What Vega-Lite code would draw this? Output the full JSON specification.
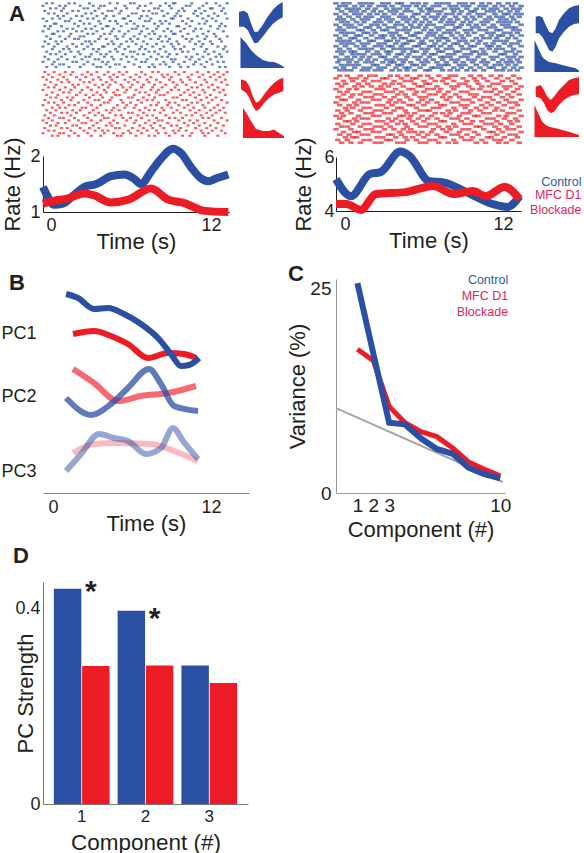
{
"$schema":"https://vega.github.io/schema/vega-lite/v6.json",
"padding":{"left":0,"top":2,"right":0,"bottom":0},
"background":"white",
"config":{
 "font":"Liberation Sans",
 "view":{"stroke":null},
 "axis":{"grid":false,"labelFont":"Liberation Sans","titleFont":"Liberation Sans","titleFontWeight":"normal","labelColor":"#231f20","titleColor":"#231f20","domainColor":"#231f20","ticks":false,"labelFontSize":18,"titleFontSize":22},
 "title":{"fontSize":22,"fontWeight":"bold","anchor":"start","frame":"group","offset":0,"baseline":"alphabetic","color":"#231f20","font":"Liberation Sans"}
},
"datasets":{
"one":[{"n":1}],
"rasL":[
{"c":"b","r":1,"s":[2,5,14,17,25,36,40,47,49,58,66,70,71,80,88,93,99]},
{"c":"b","r":2,"s":[0,9,12,20,27,31,33,44,52,55,63,68,77,79,86,95]},
{"c":"b","r":3,"s":[4,7,11,22,24,30,39,45,51,60,62,69,75,84,90,91,97]},
{"c":"b","r":4,"s":[1,10,16,19,28,35,37,42,54,57,64,73,76,82,87,96]},
{"c":"b","r":5,"s":[3,6,13,23,26,32,41,48,50,59,61,67,72,81,85,92,98]},
{"c":"b","r":6,"s":[8,11,18,21,29,34,38,46,53,56,65,71,74,83,89,94]},
{"c":"b","r":7,"s":[0,5,9,15,24,27,33,43,44,52,58,69,70,78,86,91,99]},
{"c":"b","r":8,"s":[2,12,14,20,30,36,39,47,55,57,63,66,75,80,88,93]},
{"c":"b","r":9,"s":[6,7,17,22,25,31,40,45,49,60,64,68,77,84,87,96]},
{"c":"b","r":10,"s":[1,4,10,19,28,34,35,42,51,54,62,72,73,79,90,95,98]},
{"c":"b","r":11,"s":[3,13,16,23,26,32,38,48,50,56,61,67,76,82,85,94]},
{"c":"b","r":12,"s":[0,8,11,18,21,29,37,41,46,53,59,65,69,74,81,89,97]},
{"c":"b","r":13,"s":[5,6,15,24,27,33,36,44,52,57,60,70,71,78,86,92]},
{"c":"b","r":14,"s":[2,9,14,20,22,31,39,43,49,55,63,66,75,83,88,93,99]},
{"c":"b","r":15,"s":[4,12,17,19,30,34,40,47,51,58,62,68,77,80,87,95]},
{"c":"b","r":16,"s":[1,7,10,23,25,28,37,45,48,54,64,67,72,79,84,90,96]},
{"c":"b","r":17,"s":[3,8,16,21,26,35,38,42,50,56,61,69,73,82,86,91]},
{"c":"b","r":18,"s":[0,6,13,18,24,32,33,41,46,53,59,65,70,76,85,94,98]},
{"c":"b","r":19,"s":[5,11,14,22,27,30,39,44,52,55,63,71,74,81,88,97]},
{"c":"b","r":20,"s":[2,9,15,19,29,36,40,47,49,57,60,66,75,78,87,92,99]},
{"c":"b","r":21,"s":[4,7,12,20,26,31,34,43,51,54,62,68,72,83,89,95]},
{"c":"b","r":22,"s":[1,10,17,23,25,33,37,45,48,58,64,67,77,80,86,93,96]},
{"c":"b","r":23,"s":[3,8,13,21,28,30,38,42,50,56,61,69,71,79,84,90]},
{"c":"b","r":24,"s":[0,6,16,18,24,32,35,46,53,55,65,70,76,82,88,94,97]},
{"c":"b","r":25,"s":[5,9,11,22,27,34,39,41,49,59,63,66,73,81,85,91]},
{"c":"b","r":26,"s":[2,7,14,20,29,31,36,44,52,57,60,68,74,78,87,95,98]},
{"c":"r","r":28,"s":[1,6,12,16,24,29,35,41,45,53,59,62,71,76,83,89,94,99]},
{"c":"r","r":29,"s":[3,9,15,21,26,33,38,43,50,55,64,67,73,80,86,92,97]},
{"c":"r","r":30,"s":[0,5,11,18,23,30,36,40,47,52,58,65,69,78,84,90,95]},
{"c":"r","r":31,"s":[2,8,13,20,27,31,37,44,49,56,61,68,74,79,87,93,98]},
{"c":"r","r":32,"s":[4,10,14,22,25,34,39,46,51,57,63,70,75,82,88,96]},
{"c":"r","r":33,"s":[1,7,16,19,28,32,36,42,48,54,60,66,72,77,85,91,99]},
{"c":"r","r":34,"s":[3,6,12,17,24,30,35,43,47,53,59,64,71,80,83,89,94]},
{"c":"r","r":35,"s":[0,9,15,21,26,33,40,45,50,58,62,69,73,78,86,92,97]},
{"c":"r","r":36,"s":[5,11,14,20,29,34,38,44,52,55,61,67,76,81,87,95]},
{"c":"r","r":37,"s":[2,8,18,23,27,31,39,41,49,57,63,65,74,79,84,90,98]},
{"c":"r","r":38,"s":[4,7,13,16,25,32,37,46,48,54,60,70,72,82,88,93]},
{"c":"r","r":39,"s":[1,10,15,22,28,30,36,42,51,56,59,66,75,77,85,91,96]},
{"c":"r","r":40,"s":[3,6,11,19,24,33,35,43,47,53,62,68,71,80,83,89,99]},
{"c":"r","r":41,"s":[0,8,14,17,26,31,40,45,50,58,61,67,73,78,86,94]},
{"c":"r","r":42,"s":[5,9,12,21,23,29,38,44,49,55,64,69,76,81,87,92,97]},
{"c":"r","r":43,"s":[2,7,16,20,27,34,37,41,52,57,60,65,72,79,84,90,95]},
{"c":"r","r":44,"s":[4,10,13,18,25,30,36,46,48,54,63,70,74,82,88,93,98]},
{"c":"r","r":45,"s":[1,6,15,22,28,32,39,42,51,56,59,66,77,80,85,91]},
{"c":"r","r":46,"s":[3,9,11,17,24,33,35,43,47,53,61,68,71,75,86,89,96]},
{"c":"r","r":47,"s":[0,5,14,19,26,31,38,45,50,57,62,64,73,79,83,92,99]},
{"c":"r","r":48,"s":[2,8,12,21,23,29,36,40,49,55,60,67,76,81,87,94]},
{"c":"r","r":49,"s":[4,7,16,18,27,34,37,44,52,58,63,69,72,78,84,90,97]},
{"c":"r","r":50,"s":[1,10,13,20,25,30,39,41,48,54,59,65,74,82,88,93]},
{"c":"r","r":51,"s":[3,6,15,22,28,32,35,46,51,56,61,70,73,77,85,91,96]},
{"c":"r","r":52,"s":[0,9,11,17,24,33,38,43,47,53,62,66,71,80,86,89,98]},
{"c":"r","r":53,"s":[5,8,14,19,26,31,40,42,50,57,60,68,75,79,87,94]}
],
"rasR":[
{"c":"b","r":1,"s":[0,4,7,13,16,19,25,28,33,35,41,44,48,54,57,60,66,69,73,78,82,87,92,96]},
{"c":"b","r":2,"s":[2,5,10,14,18,23,26,30,36,39,43,47,52,55,61,64,68,71,77,80,85,89,94,99]},
{"c":"b","r":3,"s":[1,6,9,12,17,21,27,31,34,38,45,49,51,58,62,65,70,75,79,83,86,91,95,98]},
{"c":"b","r":4,"s":[3,8,11,15,20,24,29,32,37,40,46,50,53,56,63,67,72,74,81,84,88,93,97]},
{"c":"b","r":5,"s":[0,5,10,13,18,22,26,31,35,42,44,49,55,59,62,66,71,76,79,85,90,92,96,99]},
{"c":"b","r":6,"s":[2,7,12,16,19,25,28,34,37,41,47,51,54,58,64,69,73,77,82,86,89,94,98]},
{"c":"b","r":7,"s":[1,4,9,14,17,23,27,30,36,39,43,48,53,57,61,65,70,74,80,83,88,91,95]},
{"c":"b","r":8,"s":[3,6,11,15,21,24,29,33,38,42,46,50,56,60,63,68,72,78,81,87,90,93,97]},
{"c":"b","r":9,"s":[0,5,8,13,19,22,26,32,35,40,45,49,52,59,62,67,71,75,79,84,89,92,99]},
{"c":"b","r":10,"s":[2,7,10,16,18,23,28,31,37,41,44,48,54,57,64,66,73,76,82,85,91,94,96]},
{"c":"b","r":11,"s":[1,4,12,14,20,25,27,33,36,39,47,51,55,60,63,69,72,77,80,86,88,95,98]},
{"c":"b","r":12,"s":[3,6,9,15,17,21,29,32,38,43,45,50,53,58,61,65,70,74,81,84,90,93,97]},
{"c":"b","r":13,"s":[0,5,11,13,19,24,26,30,34,40,42,49,52,56,62,67,71,78,83,87,89,94,99]},
{"c":"b","r":14,"s":[2,8,10,16,22,25,31,35,37,44,48,54,57,59,64,68,75,79,82,86,92,96]},
{"c":"b","r":15,"s":[1,4,7,12,18,20,27,29,33,39,41,46,51,55,60,66,69,73,77,85,88,91,98]},
{"c":"b","r":16,"s":[3,6,9,14,17,23,26,32,36,38,45,47,53,58,63,65,70,76,80,84,90,94,97]},
{"c":"b","r":17,"s":[0,5,11,15,21,24,28,30,35,42,44,50,52,56,61,67,72,74,81,83,87,93,99]},
{"c":"b","r":18,"s":[2,7,13,16,19,25,31,34,37,40,46,49,54,59,62,68,71,78,82,86,89,95]},
{"c":"b","r":19,"s":[1,4,8,10,17,22,27,29,36,41,43,48,55,57,64,66,73,75,79,85,91,94,98]},
{"c":"b","r":20,"s":[3,9,12,15,20,23,28,33,35,39,47,51,53,60,63,69,72,77,80,88,90,96]},
{"c":"b","r":21,"s":[0,6,10,14,18,24,26,32,38,42,45,50,56,58,61,67,70,76,83,86,92,95,99]},
{"c":"b","r":22,"s":[2,5,8,13,17,21,27,30,34,37,44,48,52,57,62,65,71,74,79,84,89,93,97]},
{"c":"b","r":23,"s":[1,7,11,16,19,25,29,31,36,40,46,49,54,59,64,68,73,78,81,87,91,94,98]},
{"c":"b","r":24,"s":[3,6,9,12,20,22,28,33,35,41,43,47,55,58,60,66,69,75,80,85,88,92,96]},
{"c":"b","r":25,"s":[0,4,10,15,18,23,26,32,37,39,45,51,53,56,63,67,72,77,82,84,90,95,99]},
{"c":"b","r":26,"s":[2,5,8,14,17,21,24,30,34,38,42,48,50,57,61,65,70,74,79,86,89,93,97]},
{"c":"r","r":28,"s":[2,6,13,18,21,29,33,38,45,49,55,61,64,72,77,83,88,95]},
{"c":"r","r":29,"s":[0,8,11,16,25,27,35,41,43,51,58,60,68,74,79,86,92,98]},
{"c":"r","r":30,"s":[4,9,15,20,23,31,37,40,47,53,57,63,70,75,81,89,94]},
{"c":"r","r":31,"s":[1,5,12,17,26,30,34,42,48,50,59,66,69,76,84,87,96]},
{"c":"r","r":32,"s":[3,10,14,19,24,28,36,44,46,54,62,65,71,78,82,90,93,99]},
{"c":"r","r":33,"s":[0,7,11,22,25,32,39,41,49,52,56,63,73,77,85,91,97]},
{"c":"r","r":34,"s":[2,6,15,18,27,30,35,43,47,55,60,67,70,80,83,88,95]},
{"c":"r","r":35,"s":[4,9,13,21,24,33,37,42,50,53,58,64,72,75,86,92,98]},
{"c":"r","r":36,"s":[1,8,16,19,26,31,38,45,48,57,61,66,74,79,82,89,94]},
{"c":"r","r":37,"s":[3,5,12,20,23,29,34,40,46,51,59,68,71,77,84,91,99]},
{"c":"r","r":38,"s":[0,10,14,17,28,32,36,44,49,54,62,65,73,81,87,93,96]},
{"c":"r","r":39,"s":[2,7,11,22,25,30,39,41,47,56,58,67,70,78,83,90,97]},
{"c":"r","r":40,"s":[5,9,15,18,27,33,35,43,52,55,63,69,75,80,86,94]},
{"c":"r","r":41,"s":[1,6,13,21,24,31,37,45,48,50,60,64,72,77,85,89,98]},
{"c":"r","r":42,"s":[3,8,16,19,26,29,38,42,53,57,61,68,71,79,82,92,95]},
{"c":"r","r":43,"s":[0,4,12,20,23,34,36,40,46,51,59,66,74,76,87,91,99]},
{"c":"r","r":44,"s":[2,10,14,17,28,32,39,44,49,54,62,65,70,81,84,90,96]},
{"c":"r","r":45,"s":[5,7,11,22,25,30,35,41,47,56,58,67,73,78,86,93,97]},
{"c":"r","r":46,"s":[1,9,15,18,27,33,37,43,50,53,63,69,72,80,83,88,94]},
{"c":"r","r":47,"s":[3,6,13,21,24,29,38,45,48,55,60,64,75,77,85,91,98]},
{"c":"r","r":48,"s":[0,8,16,19,26,31,36,40,52,57,61,68,71,79,87,92,95]},
{"c":"r","r":49,"s":[4,10,12,20,23,34,39,42,46,51,59,66,74,82,84,89,99]},
{"c":"r","r":50,"s":[2,7,14,17,28,30,35,44,49,54,62,65,70,76,86,93,96]},
{"c":"r","r":51,"s":[5,9,11,22,25,32,37,41,47,56,58,67,73,81,83,90,97]},
{"c":"r","r":52,"s":[1,6,15,18,27,29,38,43,50,53,63,69,72,78,85,88,94]},
{"c":"r","r":53,"s":[3,8,13,21,24,33,36,45,48,55,60,64,75,80,87,91,98]}
],
"thumbs":[
{"k":"LB","p":"w","x":0,"lo":41.3,"hi":56.3},{"k":"LB","p":"w","x":5,"lo":41.3,"hi":57.3},{"k":"LB","p":"w","x":8.7,"lo":38,"hi":54.7},{"k":"LB","p":"w","x":12,"lo":31.3,"hi":44.7},{"k":"LB","p":"w","x":15.3,"lo":24.7,"hi":36.3},{"k":"LB","p":"w","x":18.7,"lo":25.3,"hi":36.3},{"k":"LB","p":"w","x":23.7,"lo":31.3,"hi":43},{"k":"LB","p":"w","x":28.7,"lo":38,"hi":51.3},{"k":"LB","p":"w","x":33.7,"lo":44,"hi":58},{"k":"LB","p":"w","x":38.7,"lo":48,"hi":63},{"k":"LB","p":"w","x":43.7,"lo":50.7,"hi":66},
{"k":"LB","p":"h","x":1.5,"lo":0,"hi":31},{"k":"LB","p":"h","x":7,"lo":0,"hi":25},{"k":"LB","p":"h","x":12,"lo":0,"hi":18},{"k":"LB","p":"h","x":17,"lo":0,"hi":13},{"k":"LB","p":"h","x":23.7,"lo":0,"hi":8},{"k":"LB","p":"h","x":30,"lo":0,"hi":6.3},{"k":"LB","p":"h","x":35,"lo":0,"hi":6},{"k":"LB","p":"h","x":40,"lo":0,"hi":4},{"k":"LB","p":"h","x":45,"lo":0,"hi":1},
{"k":"LR","p":"w","x":2,"lo":48.7,"hi":58.7},{"k":"LR","p":"w","x":7,"lo":45.3,"hi":57},{"k":"LR","p":"w","x":10.3,"lo":40.3,"hi":52},{"k":"LR","p":"w","x":13.7,"lo":32,"hi":42},{"k":"LR","p":"w","x":17,"lo":27,"hi":35.3},{"k":"LR","p":"w","x":20.3,"lo":28.7,"hi":37},{"k":"LR","p":"w","x":25.3,"lo":35.3,"hi":43.7},{"k":"LR","p":"w","x":30.3,"lo":40.3,"hi":50.3},{"k":"LR","p":"w","x":35.3,"lo":43.7,"hi":55.3},{"k":"LR","p":"w","x":40.3,"lo":45.3,"hi":58.7},{"k":"LR","p":"w","x":44.3,"lo":47,"hi":60.3},
{"k":"LR","p":"h","x":4,"lo":0,"hi":30.3},{"k":"LR","p":"h","x":8,"lo":0,"hi":24},{"k":"LR","p":"h","x":12,"lo":0,"hi":17},{"k":"LR","p":"h","x":17,"lo":0,"hi":9},{"k":"LR","p":"h","x":24,"lo":0,"hi":7},{"k":"LR","p":"h","x":30,"lo":0,"hi":7},{"k":"LR","p":"h","x":35,"lo":0,"hi":8.5},{"k":"LR","p":"h","x":40,"lo":0,"hi":5},{"k":"LR","p":"h","x":45,"lo":0,"hi":2},
{"k":"RB","p":"w","x":1.7,"lo":38.7,"hi":55.3},{"k":"RB","p":"w","x":5,"lo":38.7,"hi":56},{"k":"RB","p":"w","x":8.3,"lo":35.3,"hi":54.7},{"k":"RB","p":"w","x":11.7,"lo":28.7,"hi":47},{"k":"RB","p":"w","x":15,"lo":22,"hi":40.3},{"k":"RB","p":"w","x":18.3,"lo":20.3,"hi":38.7},{"k":"RB","p":"w","x":21.7,"lo":25.3,"hi":43.7},{"k":"RB","p":"w","x":25,"lo":33.7,"hi":52},{"k":"RB","p":"w","x":30,"lo":40.3,"hi":58.7},{"k":"RB","p":"w","x":35,"lo":45.3,"hi":63.7},{"k":"RB","p":"w","x":40,"lo":48,"hi":66},{"k":"RB","p":"w","x":45,"lo":48.7,"hi":67},
{"k":"RB","p":"h","x":0.5,"lo":0,"hi":32},{"k":"RB","p":"h","x":5,"lo":0,"hi":22},{"k":"RB","p":"h","x":8.3,"lo":0,"hi":15},{"k":"RB","p":"h","x":11.7,"lo":0,"hi":12},{"k":"RB","p":"h","x":15,"lo":0,"hi":10},{"k":"RB","p":"h","x":21.7,"lo":0,"hi":8.7},{"k":"RB","p":"h","x":28.3,"lo":0,"hi":7},{"k":"RB","p":"h","x":35,"lo":0,"hi":5.3},{"k":"RB","p":"h","x":41.7,"lo":0,"hi":3.7},{"k":"RB","p":"h","x":45,"lo":0,"hi":1.5},
{"k":"RR","p":"w","x":1.7,"lo":40.3,"hi":50.3},{"k":"RR","p":"w","x":6.7,"lo":38.7,"hi":52},{"k":"RR","p":"w","x":10,"lo":33.7,"hi":47},{"k":"RR","p":"w","x":13.3,"lo":27,"hi":40.3},{"k":"RR","p":"w","x":16.7,"lo":23.7,"hi":37},{"k":"RR","p":"w","x":20,"lo":25.3,"hi":40.3},{"k":"RR","p":"w","x":25,"lo":32,"hi":47},{"k":"RR","p":"w","x":30,"lo":37,"hi":52},{"k":"RR","p":"w","x":35,"lo":40.3,"hi":57},{"k":"RR","p":"w","x":40,"lo":42,"hi":58.7},{"k":"RR","p":"w","x":45,"lo":42.7,"hi":59.7},
{"k":"RR","p":"h","x":0.5,"lo":0,"hi":32},{"k":"RR","p":"h","x":5,"lo":0,"hi":22},{"k":"RR","p":"h","x":8.3,"lo":0,"hi":15.3},{"k":"RR","p":"h","x":11.7,"lo":0,"hi":12},{"k":"RR","p":"h","x":15,"lo":0,"hi":10.3},{"k":"RR","p":"h","x":21.7,"lo":0,"hi":8.7},{"k":"RR","p":"h","x":28.3,"lo":0,"hi":7},{"k":"RR","p":"h","x":35,"lo":0,"hi":5.3},{"k":"RR","p":"h","x":41.7,"lo":0,"hi":3},{"k":"RR","p":"h","x":45,"lo":0,"hi":2}
],
"rate":[
{"s":"L","c":"b","t":-0.6,"v":1.45},{"s":"L","c":"b","t":-0.3,"v":1.3},{"s":"L","c":"b","t":0.2,"v":1.13},{"s":"L","c":"b","t":0.9,"v":1.15},{"s":"L","c":"b","t":1.7,"v":1.3},{"s":"L","c":"b","t":2.5,"v":1.45},{"s":"L","c":"b","t":3.4,"v":1.5},{"s":"L","c":"b","t":4.5,"v":1.64},{"s":"L","c":"b","t":5.5,"v":1.67},{"s":"L","c":"b","t":6.2,"v":1.6},{"s":"L","c":"b","t":6.75,"v":1.5},{"s":"L","c":"b","t":7.5,"v":1.72},{"s":"L","c":"b","t":8.25,"v":1.95},{"s":"L","c":"b","t":9.15,"v":2.13},{"s":"L","c":"b","t":9.75,"v":2.05},{"s":"L","c":"b","t":10.5,"v":1.8},{"s":"L","c":"b","t":11.25,"v":1.6},{"s":"L","c":"b","t":11.8,"v":1.55},{"s":"L","c":"b","t":12.4,"v":1.6},{"s":"L","c":"b","t":13.3,"v":1.67},
{"s":"L","c":"r","t":-0.6,"v":1.15},{"s":"L","c":"r","t":0.2,"v":1.2},{"s":"L","c":"r","t":1.2,"v":1.24},{"s":"L","c":"r","t":2.5,"v":1.33},{"s":"L","c":"r","t":3.2,"v":1.3},{"s":"L","c":"r","t":4.5,"v":1.17},{"s":"L","c":"r","t":5.8,"v":1.22},{"s":"L","c":"r","t":7.5,"v":1.42},{"s":"L","c":"r","t":8.8,"v":1.22},{"s":"L","c":"r","t":10,"v":1.16},{"s":"L","c":"r","t":11.5,"v":1.02},{"s":"L","c":"r","t":13.3,"v":1.0},
{"s":"R","c":"b","t":-0.68,"v":5.18},{"s":"R","c":"b","t":0.45,"v":4.55},{"s":"R","c":"b","t":1.9,"v":5.37},{"s":"R","c":"b","t":2.7,"v":5.44},{"s":"R","c":"b","t":4.2,"v":6.2},{"s":"R","c":"b","t":4.9,"v":6.04},{"s":"R","c":"b","t":6.4,"v":5.1},{"s":"R","c":"b","t":7.4,"v":5.07},{"s":"R","c":"b","t":9.2,"v":4.7},{"s":"R","c":"b","t":11.2,"v":4.26},{"s":"R","c":"b","t":12.35,"v":4.15},{"s":"R","c":"b","t":13.25,"v":4.55},
{"s":"R","c":"r","t":-0.68,"v":4.26},{"s":"R","c":"r","t":0.1,"v":4.26},{"s":"R","c":"r","t":1.2,"v":4.04},{"s":"R","c":"r","t":2.35,"v":4.63},{"s":"R","c":"r","t":4.6,"v":4.7},{"s":"R","c":"r","t":6.7,"v":4.93},{"s":"R","c":"r","t":8.2,"v":4.63},{"s":"R","c":"r","t":9.7,"v":4.74},{"s":"R","c":"r","t":10.7,"v":4.55},{"s":"R","c":"r","t":12.1,"v":4.89},{"s":"R","c":"r","t":13.25,"v":4.44}
],
"pcs":[
{"pc":1,"c":"b","t":0.99,"v":207},{"pc":1,"c":"b","t":1.9,"v":203},{"pc":1,"c":"b","t":3.11,"v":192},{"pc":1,"c":"b","t":4.18,"v":193},{"pc":1,"c":"b","t":5.39,"v":187},{"pc":1,"c":"b","t":6.68,"v":177},{"pc":1,"c":"b","t":7.97,"v":163},{"pc":1,"c":"b","t":8.96,"v":147},{"pc":1,"c":"b","t":9.72,"v":135},{"pc":1,"c":"b","t":10.33,"v":136},{"pc":1,"c":"b","t":11.09,"v":143},
{"pc":1,"c":"r","t":1.52,"v":167},{"pc":1,"c":"r","t":3.11,"v":170},{"pc":1,"c":"r","t":4.4,"v":165},{"pc":1,"c":"r","t":5.69,"v":157},{"pc":1,"c":"r","t":7.21,"v":143},{"pc":1,"c":"r","t":8.73,"v":148},{"pc":1,"c":"r","t":9.95,"v":147},{"pc":1,"c":"r","t":10.86,"v":143},
{"pc":2,"c":"b","t":0.99,"v":103},{"pc":2,"c":"b","t":2.89,"v":86},{"pc":2,"c":"b","t":4.4,"v":97},{"pc":2,"c":"b","t":5.69,"v":113},{"pc":2,"c":"b","t":7.29,"v":132},{"pc":2,"c":"b","t":8.2,"v":117},{"pc":2,"c":"b","t":9.19,"v":95},{"pc":2,"c":"b","t":11.01,"v":90},
{"pc":2,"c":"r","t":1.52,"v":132},{"pc":2,"c":"r","t":3.11,"v":118},{"pc":2,"c":"r","t":4.94,"v":100},{"pc":2,"c":"r","t":6.68,"v":105},{"pc":2,"c":"r","t":8.73,"v":108},{"pc":2,"c":"r","t":10.86,"v":115},
{"pc":3,"c":"b","t":0.99,"v":30},{"pc":3,"c":"b","t":2.13,"v":47},{"pc":3,"c":"b","t":3.49,"v":67},{"pc":3,"c":"b","t":4.63,"v":63},{"pc":3,"c":"b","t":5.69,"v":60},{"pc":3,"c":"b","t":7.06,"v":47},{"pc":3,"c":"b","t":8.2,"v":53},{"pc":3,"c":"b","t":9.11,"v":73},{"pc":3,"c":"b","t":9.87,"v":60},{"pc":3,"c":"b","t":11.01,"v":42},
{"pc":3,"c":"r","t":1.52,"v":48},{"pc":3,"c":"r","t":3.11,"v":57},{"pc":3,"c":"r","t":4.63,"v":58},{"pc":3,"c":"r","t":7.44,"v":57},{"pc":3,"c":"r","t":9.19,"v":50},{"pc":3,"c":"r","t":11.01,"v":40}
],
"scree":[
{"k":1,"c":"b","v":25.7},{"k":2,"c":"b","v":17.1},{"k":3,"c":"b","v":8.6},{"k":4,"c":"b","v":8.4},{"k":5,"c":"b","v":6.7},{"k":6,"c":"b","v":5.4},{"k":7,"c":"b","v":4.8},{"k":8,"c":"b","v":3.1},{"k":9,"c":"b","v":2.3},{"k":10,"c":"b","v":1.8},
{"k":1,"c":"r","v":17.6},{"k":2,"c":"r","v":16.2},{"k":3,"c":"r","v":10.6},{"k":4,"c":"r","v":8.6},{"k":5,"c":"r","v":7.5},{"k":6,"c":"r","v":6.9},{"k":7,"c":"r","v":5.5},{"k":8,"c":"r","v":3.8},{"k":9,"c":"r","v":2.9},{"k":10,"c":"r","v":2.1}
],
"bars":[
{"k":"1","c":"Control","v":0.441},{"k":"1","c":"MFC","v":0.283},{"k":"2","c":"Control","v":0.396},{"k":"2","c":"MFC","v":0.284},{"k":"3","c":"Control","v":0.284},{"k":"3","c":"MFC","v":0.248}
],
"stars":[{"k":"1","c":"MFC","v":0.439},{"k":"2","c":"MFC","v":0.384}]
},
"spacing":11,
"vconcat":[
{"hconcat":[
 {"vconcat":[
  {"hconcat":[
   {"width":186,"height":135,"title":{"text":"A","dx":-34,"dy":28},
    "data":{"name":"rasL"},"transform":[{"flatten":["s"]}],
    "mark":{"type":"tick","orient":"horizontal","size":3,"thickness":2.2},
    "encoding":{"x":{"field":"s","type":"quantitative","scale":{"domain":[0,100],"nice":false,"zero":false},"axis":null},
     "y":{"field":"r","type":"quantitative","scale":{"domain":[0.5,53.5],"reverse":true,"nice":false,"zero":false},"axis":{"values":[27],"labelExpr":"'2'","labelOpacity":0,"domain":false,"title":"Rate (Hz)","titleOpacity":0,"labelPadding":3,"titlePadding":5}},
     "color":{"field":"c","type":"nominal","scale":{"domain":["b","r"],"range":["#2b4fa3","#ed1c24"]},"legend":null}}},
   {"vconcat":[
     {"width":46,"height":66,"data":{"name":"thumbs"},"transform":[{"filter":"datum.k=='LB'"}],"mark":{"type":"area","color":"#2b4fa3"},
      "encoding":{"x":{"field":"x","type":"quantitative","scale":{"domain":[0,46],"nice":false,"zero":false},"axis":null},"y":{"field":"hi","type":"quantitative","scale":{"domain":[0,66],"nice":false},"axis":null},"y2":{"field":"lo"},"detail":{"field":"p"}}},
     {"width":46,"height":60,"data":{"name":"thumbs"},"transform":[{"filter":"datum.k=='LR'"}],"mark":{"type":"area","color":"#ed1c24"},
      "encoding":{"x":{"field":"x","type":"quantitative","scale":{"domain":[0,46],"nice":false,"zero":false},"axis":null},"y":{"field":"hi","type":"quantitative","scale":{"domain":[0,60],"nice":false},"axis":null},"y2":{"field":"lo"},"detail":{"field":"p"}}}
    ],"spacing":9}
  ],"spacing":10},
  {"width":186,"height":56,"data":{"name":"rate"},"transform":[{"filter":"datum.s=='L'"}],
   "encoding":{"x":{"field":"t","type":"quantitative","scale":{"domain":[-0.6,13.35],"nice":false,"zero":false},"axis":{"values":[0,12],"title":"Time (s)","labelPadding":4,"titlePadding":-3}},
    "y":{"field":"v","type":"quantitative","scale":{"domain":[1,2],"nice":false,"zero":false},"axis":{"values":[1,2],"format":"~g","title":"Rate (Hz)","labelPadding":3,"titlePadding":5}}},
   "layer":[
    {"transform":[{"filter":"datum.c=='b'"}],"mark":{"type":"line","color":"#2b4fa3","strokeWidth":8,"interpolate":"monotone"}},
    {"transform":[{"filter":"datum.c=='r'"}],"mark":{"type":"line","color":"#ed1c24","strokeWidth":8,"interpolate":"monotone"}}
   ]}
 ],"spacing":-6},
 {"vconcat":[
  {"hconcat":[
   {"width":187,"height":142,
    "data":{"name":"rasR"},"transform":[{"flatten":["s"]}],
    "mark":{"type":"tick","orient":"horizontal","size":5.5,"thickness":2.6},
    "encoding":{"x":{"field":"s","type":"quantitative","scale":{"domain":[0,100],"nice":false,"zero":false},"axis":null},
     "y":{"field":"r","type":"quantitative","scale":{"domain":[0.5,53.5],"reverse":true,"nice":false,"zero":false},"axis":{"values":[27],"labelExpr":"'6'","labelOpacity":0,"domain":false,"title":"Rate (Hz)","titleOpacity":0,"labelPadding":2,"titlePadding":8}},
     "color":{"field":"c","type":"nominal","scale":{"domain":["b","r"],"range":["#2b4fa3","#ed1c24"]},"legend":null}}},
   {"vconcat":[
     {"width":46,"height":70,"data":{"name":"thumbs"},"transform":[{"filter":"datum.k=='RB'"}],"mark":{"type":"area","color":"#2b4fa3"},
      "encoding":{"x":{"field":"x","type":"quantitative","scale":{"domain":[0,46],"nice":false,"zero":false},"axis":null},"y":{"field":"hi","type":"quantitative","scale":{"domain":[0,70],"nice":false},"axis":null},"y2":{"field":"lo"},"detail":{"field":"p"}}},
     {"width":46,"height":60,"data":{"name":"thumbs"},"transform":[{"filter":"datum.k=='RR'"}],"mark":{"type":"area","color":"#ed1c24"},
      "encoding":{"x":{"field":"x","type":"quantitative","scale":{"domain":[0,46],"nice":false,"zero":false},"axis":null},"y":{"field":"hi","type":"quantitative","scale":{"domain":[0,60],"nice":false},"axis":null},"y2":{"field":"lo"},"detail":{"field":"p"}}}
    ],"spacing":5}
  ],"spacing":10},
  {"width":185,"height":54,
   "layer":[
    {"data":{"name":"rate"},"transform":[{"filter":"datum.s=='R' && datum.c=='b'"}],"mark":{"type":"line","color":"#2b4fa3","strokeWidth":8,"interpolate":"monotone"},
     "encoding":{"x":{"field":"t","type":"quantitative","scale":{"domain":[-0.68,13.36],"nice":false,"zero":false},"axis":{"values":[0,12],"title":"Time (s)","labelPadding":4,"titlePadding":-3}},
      "y":{"field":"v","type":"quantitative","scale":{"domain":[4,6],"nice":false,"zero":false},"axis":{"values":[4,6],"format":"~g","title":"Rate (Hz)","labelPadding":2,"titlePadding":8}}}},
    {"data":{"name":"rate"},"transform":[{"filter":"datum.s=='R' && datum.c=='r'"}],"mark":{"type":"line","color":"#ed1c24","strokeWidth":8,"interpolate":"monotone"},
     "encoding":{"x":{"field":"t","type":"quantitative"},"y":{"field":"v","type":"quantitative"}}},
    {"data":{"name":"one"},"mark":{"type":"text","text":"Control","align":"right","baseline":"middle","fontSize":12.5,"color":"#2f58a8"},"encoding":{"x":{"datum":17.95,"type":"quantitative"},"y":{"datum":5.08,"type":"quantitative"}}},
    {"data":{"name":"one"},"mark":{"type":"text","text":["MFC D1","Blockade"],"lineHeight":15,"align":"right","baseline":"middle","fontSize":12.5,"color":"#e5235f"},"encoding":{"x":{"datum":17.95,"type":"quantitative"},"y":{"datum":4.6,"type":"quantitative"}}}
   ]}
 ],"spacing":-9}
],"spacing":7},
{"vconcat":[
 {"hconcat":[
  {"width":206,"height":214,"title":{"text":"B","dx":-34,"dy":20},
   "data":{"name":"pcs"},
   "encoding":{"x":{"field":"t","type":"quantitative","scale":{"domain":[-0.76,14.88],"nice":false,"zero":false},"axis":{"values":[0,12],"title":"Time (s)","labelPadding":5,"titlePadding":-3,"domainColor":"#8a8a8a"}},
    "y":{"field":"v","type":"quantitative","scale":{"domain":[8,222],"nice":false,"zero":false},"axis":{"values":[168,105,30],"labelExpr":"datum.value==168?'PC1':datum.value==105?'PC2':'PC3'","domain":false,"labelPadding":7,"title":null}}},
   "layer":[
    {"transform":[{"filter":"datum.c=='r'"}],"mark":{"type":"line","color":"#ed1c24","strokeWidth":6,"interpolate":"monotone"},"encoding":{"opacity":{"field":"pc","type":"ordinal","scale":{"domain":[1,2,3],"range":[1,0.3,0.2]},"legend":null}}},
    {"transform":[{"filter":"datum.c=='b'"}],"mark":{"type":"line","color":"#2b4fa3","strokeWidth":6,"interpolate":"monotone"},"encoding":{"opacity":{"field":"pc","type":"ordinal","scale":{"domain":[1,2,3],"range":[1,0.5,0.34]},"legend":null}}}
   ],
   "resolve":{"scale":{"opacity":"independent"}}},
  {"width":169,"height":214,"title":{"text":"C","dx":-48,"dy":19},
   "layer":[
    {"data":{"name":"one"},"mark":{"type":"rule","color":"#a6a6a6","strokeWidth":2},
     "encoding":{"x":{"datum":-0.35,"type":"quantitative","scale":{"domain":[-0.35,10.3],"nice":false,"zero":false},"axis":{"values":[1,2,3,10],"title":"Component (#)","labelFontSize":19,"labelPadding":3,"titlePadding":4,"domainColor":"#999999"}},
      "y":{"datum":10.4,"type":"quantitative","scale":{"domain":[0,26.2],"nice":false},"axis":{"values":[0,25],"title":"Variance (%)","labelFontSize":19,"labelPadding":5,"titlePadding":0,"domainColor":"#999999"}},
      "x2":{"datum":10.17},"y2":{"datum":1.35}}},
    {"data":{"name":"scree"},"transform":[{"filter":"datum.c=='r'"}],"mark":{"type":"line","color":"#ed1c24","strokeWidth":5},
     "encoding":{"x":{"field":"k","type":"quantitative"},"y":{"field":"v","type":"quantitative"}}},
    {"data":{"name":"scree"},"transform":[{"filter":"datum.c=='b'"}],"mark":{"type":"line","color":"#2b4fa3","strokeWidth":6},
     "encoding":{"x":{"field":"k","type":"quantitative"},"y":{"field":"v","type":"quantitative"}}},
    {"data":{"name":"one"},"mark":{"type":"text","text":"Control","align":"right","baseline":"middle","fontSize":12.5,"color":"#2f58a8"},"encoding":{"x":{"datum":10.5,"type":"quantitative"},"y":{"datum":26.05,"type":"quantitative"}}},
    {"data":{"name":"one"},"mark":{"type":"text","text":["MFC D1","Blockade"],"lineHeight":16,"align":"right","baseline":"middle","fontSize":12.5,"color":"#e5235f"},"encoding":{"x":{"datum":10.5,"type":"quantitative"},"y":{"datum":24.1,"type":"quantitative"}}}
   ]}
 ],"spacing":37},
 {"width":205,"height":222,"title":{"text":"D","dx":-30,"dy":-5},
  "encoding":{"x":{"field":"k","type":"nominal","scale":{"paddingInner":0.126,"paddingOuter":0.17},"axis":{"title":"Component (#)","labelAngle":0,"labelFontSize":17,"labelPadding":4,"titleFontSize":22.5,"titlePadding":7,"domainColor":"#777777"}},
   "xOffset":{"field":"c","type":"nominal","scale":{"domain":["Control","MFC"],"paddingInner":0.03}},
   "y":{"field":"v","type":"quantitative","scale":{"domain":[0,0.455],"nice":false},"axis":{"values":[0,0.4],"format":"~g","title":"PC Strength","titleFontSize":22,"labelPadding":3,"titlePadding":-23,"domainColor":"#777777"}}},
  "layer":[
   {"data":{"name":"bars"},"mark":{"type":"bar"},"encoding":{"color":{"field":"c","type":"nominal","scale":{"domain":["Control","MFC"],"range":["#2a4ea6","#f21c25"]},"legend":null}}},
   {"data":{"name":"stars"},"mark":{"type":"text","text":"*","fontSize":30,"fontWeight":"bold","baseline":"middle","dx":-5,"dy":2,"color":"#231f20"}}
  ]}
],"spacing":4}
]
}
